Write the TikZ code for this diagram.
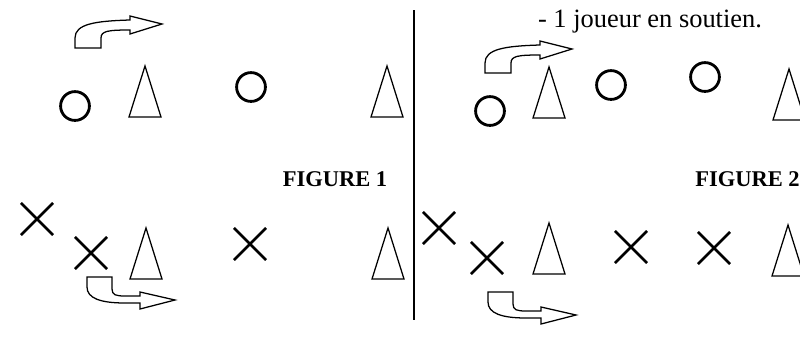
\documentclass[tikz,border=0pt]{standalone}
\usepackage{fontspec}
\setmainfont{Liberation Serif}
\usetikzlibrary{shapes.misc}

\begin{document}
\begin{tikzpicture}[
  x=0.025cm, y=-0.025cm,
  joueur/.style={draw, circle, line width=2pt, minimum size=20.5pt, inner sep=0pt},
  adversaire/.style={draw, cross out, line width=1.8pt, minimum size=21pt, inner sep=0pt},
  plot/.style={draw, line width=0.9pt, line join=miter},
  fleche/.style={draw, line width=0.9pt, line join=miter},
  titre/.style={font=\fontsize{16}{18}\selectfont\bfseries, inner sep=0pt},
  crochet haut/.pic={
    \draw[fleche] (0,0) -- (0,-10) .. controls (0,-24) and (20,-27) .. (55,-28) -- (55,-32) -- (87,-24)
      -- (55,-14) -- (55,-18) .. controls (33,-18) and (26,-17) .. (26,-10) -- (26,0) -- cycle;
  },
  crochet bas/.pic={
    \draw[fleche] (0,0) -- (25,0) -- (25,12) .. controls (25,18) and (29,19) .. (38,19) -- (53,19) -- (53,15)
      -- (88,23) -- (53,32) -- (53,26) -- (38,26) .. controls (13,26) and (0,21) .. (0,10) -- cycle;
  }
]
\useasboundingbox (0,0) rectangle (800,350);
\clip (0,0) rectangle (800,350);

\node[anchor=base, inner sep=0pt, font=\fontsize{18.8}{22}\selectfont] (consigne) at (650,27) {- 1 joueur en soutien.};
\node[titre, anchor=base] (fig1) at (335,186) {FIGURE 1};
\node[titre, anchor=base west] (fig2) at (695,186) {FIGURE 2};

\coordinate (haut) at (414,10);
\coordinate (bas) at (414,320);
\draw[line width=1.4pt] (haut) -- (bas);

\foreach \n/\x/\y in {o1/75/106, o2/251/87, o3/490/111, o4/611/85, o5/705/77}
  \node[joueur] (\n) at (\x,\y) {};
\foreach \n/\x/\y in {x1/37/219, x2/91/253, x3/250/244, x4/439/228, x5/487/258, x6/631/247, x7/714/248}
  \node[adversaire] (\n) at (\x,\y) {};
\foreach \x/\y in {145/117, 387/117, 549/118, 789/120, 146/279, 388/279, 549/274, 788/276}
  \draw[plot] (\x-16,\y) -- (\x,\y-51) -- (\x+16,\y) -- cycle;

\pic (fh1) at (75,48) {crochet haut};
\pic (fh2) at (485,73) {crochet haut};
\pic (fb1) at (87,277) {crochet bas};
\pic (fb2) at (488,292) {crochet bas};
\end{tikzpicture}
\end{document}
